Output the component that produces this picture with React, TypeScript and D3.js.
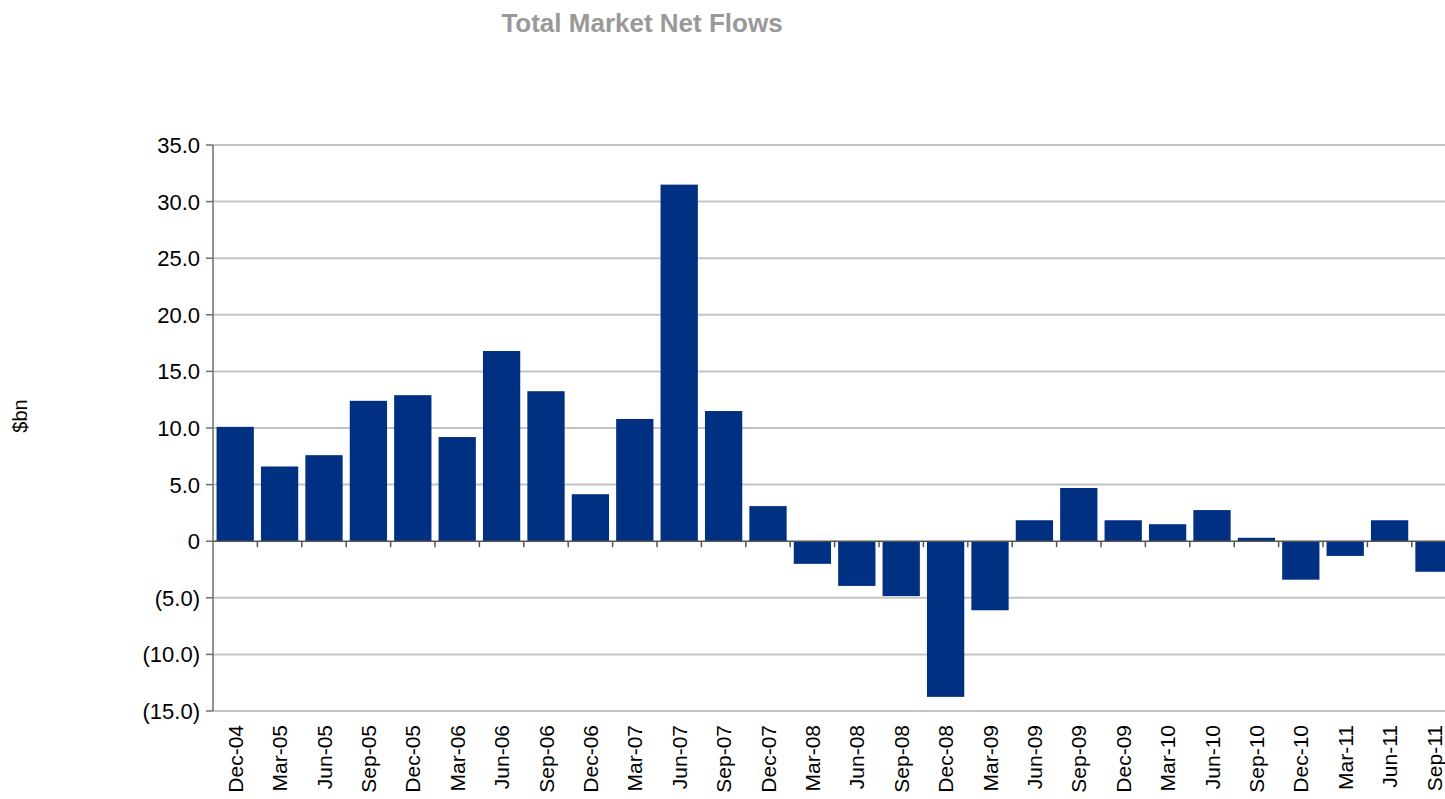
import React from "react";
import * as d3 from "d3";

const categories = [
  "Dec-04", "Mar-05", "Jun-05", "Sep-05", "Dec-05", "Mar-06", "Jun-06", "Sep-06",
  "Dec-06", "Mar-07", "Jun-07", "Sep-07", "Dec-07", "Mar-08", "Jun-08", "Sep-08",
  "Dec-08", "Mar-09", "Jun-09", "Sep-09", "Dec-09", "Mar-10", "Jun-10", "Sep-10",
  "Dec-10", "Mar-11", "Jun-11", "Sep-11",
];

const netFlows = [
  10.1, 6.6, 7.6, 12.4, 12.9, 9.2, 16.8, 13.25,
  4.15, 10.8, 31.5, 11.5, 3.1, -2.0, -3.95, -4.85,
  -13.75, -6.1, 1.85, 4.7, 1.85, 1.5, 2.75, 0.3,
  -3.4, -1.3, 1.85, -2.7,
];

const yTicks = [35, 30, 25, 20, 15, 10, 5, 0, -5, -10, -15];

// 0 shown plain, negatives in brackets
const fmt = (v: number) => {
  if (v === 0) return "0";
  const s = Math.abs(v).toFixed(1);
  return v < 0 ? `(${s})` : s;
};

const App: React.FC = () => {
  const width = 1445;
  const height = 799;
  const left = 213;
  const band = 44.4;
  const font = "'Liberation Sans', Arial, sans-serif";

  const x = d3.scaleBand<string>()
    .domain(categories)
    .range([left, left + band * categories.length])
    .paddingInner(0.16)
    .paddingOuter(0.08);

  const y = d3.scaleLinear().domain([-15, 35]).range([711, 145]);

  const step = x.step();
  const x0 = x.range()[0];

  return (
    <svg
      width={width}
      height={height}
      style={{ position: "absolute", left: 0, top: 0, background: "#fff" }}
      fontFamily={font}
    >
      <text x={642} y={32} textAnchor="middle" fontSize={26} fontWeight="bold" fill="#999999">
        Total Market Net Flows
      </text>

      {/* gridlines */}
      {yTicks.filter(t => t !== 0).map(t => (
        <line key={t} x1={left} x2={width} y1={y(t)} y2={y(t)} stroke="#c4c4c4" strokeWidth={2} />
      ))}

      {/* bars */}
      {categories.map((c, i) => {
        const v = netFlows[i];
        return (
          <rect
            key={c}
            x={x(c)}
            width={x.bandwidth()}
            y={y(Math.max(0, v))}
            height={Math.abs(y(v) - y(0))}
            fill="#003082"
          />
        );
      })}

      {/* y axis */}
      <line x1={left} x2={left} y1={y(35)} y2={y(-15)} stroke="#6e6e6e" strokeWidth={1.5} />
      {yTicks.map(t => (
        <g key={t}>
          <line x1={left - 7} x2={left} y1={y(t)} y2={y(t)} stroke="#6e6e6e" strokeWidth={1.5} />
          <text x={left - 13} y={y(t)} dy="0.36em" textAnchor="end" fontSize={22} fill="#000">
            {fmt(t)}
          </text>
        </g>
      ))}

      {/* category axis crossing at zero */}
      <line x1={left} x2={width} y1={y(0)} y2={y(0)} stroke="#555" strokeWidth={1.5} />
      {categories.slice(1).map((c, i) => (
        <line
          key={c}
          x1={x0 + step * (i + 1)}
          x2={x0 + step * (i + 1)}
          y1={y(0)}
          y2={y(0) + 6}
          stroke="#555"
          strokeWidth={1.5}
        />
      ))}

      {/* category labels */}
      {categories.map(c => {
        const cx = (x(c) ?? 0) + x.bandwidth() / 2;
        return (
          <text
            key={c}
            transform={`translate(${cx},${725}) rotate(-90)`}
            textAnchor="end"
            dy="0.36em"
            fontSize={21}
            fill="#000"
          >
            {c}
          </text>
        );
      })}

      <text transform="translate(20,416) rotate(-90)" textAnchor="middle" dy="0.36em" fontSize={20} fill="#000">
        $bn
      </text>
    </svg>
  );
};

export default App;
